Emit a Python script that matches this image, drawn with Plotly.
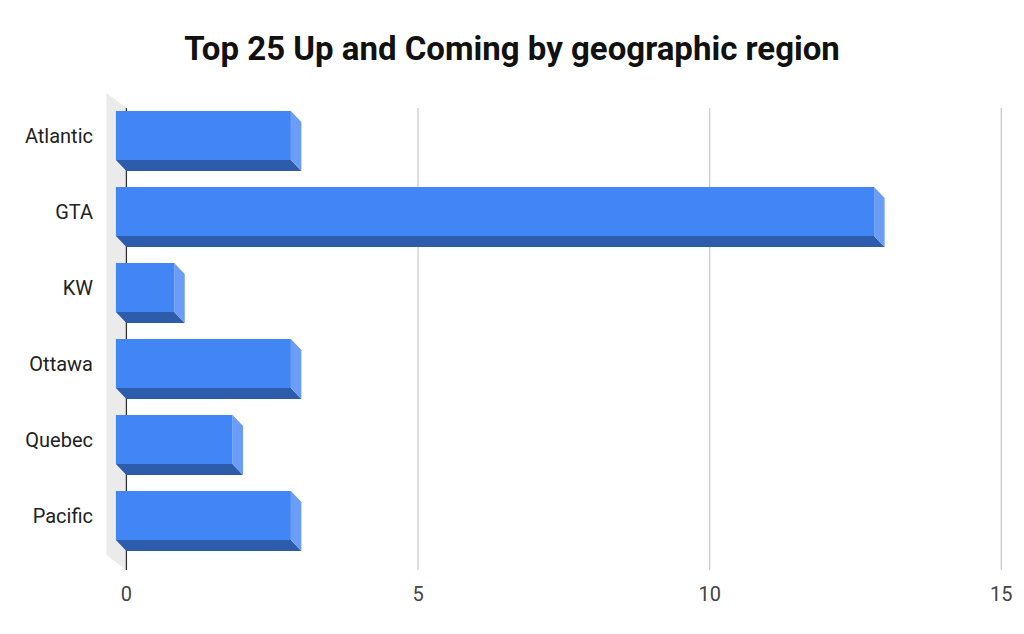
import plotly.graph_objects as go

# Regions and their counts in the Top 25 list
regions = ["Atlantic", "GTA", "KW", "Ottawa", "Quebec", "Pacific"]
counts = [3, 13, 1, 3, 2, 3]
x_ticks = [0, 5, 10, 15]

TITLE = "Top 25 Up and Coming by geographic region"

# Layout geometry (pixels) used to express the 3D extrusion in axis units
W, H = 1024, 634
PLOT_L, PLOT_R = 106, 1010
PLOT_T, PLOT_B = 93, 570
X_MIN, X_MAX = -0.35, 15.15
px_per_x = (PLOT_R - PLOT_L) / (X_MAX - X_MIN)
ROW_PX = 76.0
FIRST_ROW_PX = 135.5
Y_TOP = (PLOT_T - FIRST_ROW_PX) / ROW_PX
Y_BOT = (PLOT_B - FIRST_ROW_PX) / ROW_PX

# Bar extrusion depth: back face sits on the value axis, front face shifted up-left
DX = 10.5 / px_per_x
DY = 11.0 / ROW_PX
HALF = 24.5 / ROW_PX

FRONT = "#4285f4"
BOTTOM = "#2d5cab"
SIDE = "#6c9df6"

fig = go.Figure()


def poly(xs, ys, color):
    fig.add_trace(go.Scatter(
        x=xs + [xs[0]], y=ys + [ys[0]], mode="lines", fill="toself",
        fillcolor=color, line=dict(width=0, color=color),
        hoverinfo="skip", showlegend=False,
    ))


for i, v in enumerate(counts):
    top_f, bot_f = i - HALF, i + HALF
    # underside (darker)
    poly([-DX, v - DX, v, 0], [bot_f, bot_f, bot_f + DY, bot_f + DY], BOTTOM)
    # end face (lighter)
    poly([v - DX, v, v, v - DX], [top_f, top_f + DY, bot_f + DY, bot_f], SIDE)
    # front face
    poly([-DX, v - DX, v - DX, -DX], [top_f, top_f, bot_f, bot_f], FRONT)

# Wall along the zero line and gridlines
wall_dx = 20 / px_per_x
wall_dy = 15 / ROW_PX
grid_top = (108 - FIRST_ROW_PX) / ROW_PX
shapes = [dict(
    type="path", xref="x", yref="y", layer="below",
    path=(f"M 0,{grid_top} L 0,{Y_BOT} L {-wall_dx},{Y_BOT - wall_dy} "
          f"L {-wall_dx},{Y_TOP} Z"),
    fillcolor="#ebebeb", line=dict(width=0),
)]
for t in x_ticks[1:]:
    shapes.append(dict(type="line", xref="x", yref="y", layer="below",
                       x0=t, x1=t, y0=grid_top, y1=Y_BOT,
                       line=dict(color="#cccccc", width=1.3)))
shapes.append(dict(type="line", xref="x", yref="y", layer="below",
                   x0=0, x1=0, y0=grid_top, y1=Y_BOT,
                   line=dict(color="#333333", width=1.3)))

fig.update_layout(
    width=W, height=H,
    margin=dict(l=PLOT_L, r=W - PLOT_R, t=PLOT_T, b=H - PLOT_B, pad=0),
    paper_bgcolor="white", plot_bgcolor="white",
    font=dict(family="Roboto", color="#333333"),
    title=dict(text=TITLE, x=0.5, xanchor="center", y=1 - 48 / H, yanchor="middle",
               font=dict(family="Roboto", size=33, color="#111111", weight="bold")),
    shapes=shapes,
    xaxis=dict(range=[X_MIN, X_MAX], tickvals=x_ticks, ticktext=[str(t) for t in x_ticks],
               showgrid=False, zeroline=False, showline=False,
               ticks="outside", ticklen=6, tickcolor="rgba(0,0,0,0)",
               tickfont=dict(size=20, color="#444444")),
    yaxis=dict(range=[Y_BOT, Y_TOP], tickvals=list(range(len(regions))), ticktext=regions,
               showgrid=False, zeroline=False, showline=False,
               ticks="outside", ticklen=8, tickcolor="rgba(0,0,0,0)",
               tickfont=dict(size=20, color="#222222")),
)

fig.write_html("out.html")
